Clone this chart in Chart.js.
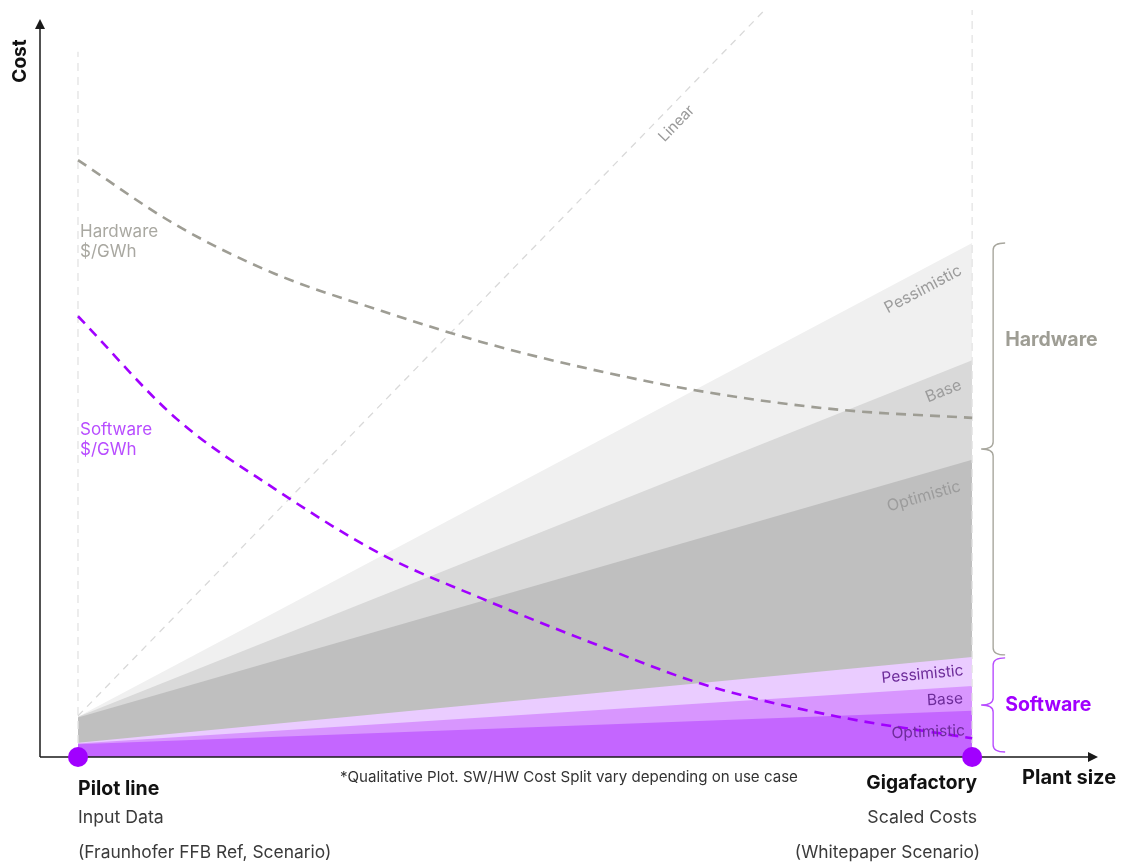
<!DOCTYPE html>
<html>
<head>
<meta charset="utf-8">
<title>Cost vs plant size</title>
<script src="https://cdn.jsdelivr.net/npm/chart.js@4.4.1/dist/chart.umd.min.js"></script>
<style>
  html, body { margin: 0; padding: 0; background: #fff; }
  #wrap { width: 1127px; height: 868px; }
</style>
</head>
<body>
<div id="wrap"><canvas id="chart" width="1127" height="868"></canvas></div>
<script>
// plant size axis: pilot line = 0, gigafactory = 100 (cost in arbitrary units 0..100)
const bandX = [0, 100]
const hwPessimistic = [5.4, 68.8]
const hwBase = [5.4, 53.1]
const hwOptimistic = [5.3, 39.8]
const swPessimistic = [1.9, 13.4]
const swBase = [1.8, 9.5]
const swOptimistic = [1.7, 6.2]

const curveX = [0, 11, 22, 34, 45, 57, 70, 85, 100]
const hwCostPerGWh = [79.9, 71.2, 64.7, 59.7, 55.6, 52.0, 48.9, 46.5, 45.4]
const swCostPerGWh = [59.0, 45.3, 35.9, 27.1, 21.3, 15.5, 9.7, 5.4, 2.5]

const linearX = [0, 76.8]
const linearY = [5.5, 100]

const milestoneX = [0, 100]
const milestoneY = [0, 0]
const guideTop = [94.4, 100]

const FONT = 'Inter, "Noto Sans", sans-serif'
const PURPLE = '#a100ff'
const HW_GREY = '#9e9d94'

const pts = (xs, ys) => xs.map((x, i) => ({ x, y: ys[i] }))

const band = (data, color) => ({
  data: pts(bandX, data),
  backgroundColor: color,
  borderWidth: 0,
  pointRadius: 0,
  fill: 'origin',
})

const dashed = (data, color, width, dash) => ({
  data,
  borderColor: color,
  borderWidth: width,
  borderDash: dash,
  pointRadius: 0,
  fill: false,
})

// first dataset ends up on top
const datasets = [
  {
    data: pts(milestoneX, milestoneY),
    showLine: false,
    pointRadius: 10,
    pointBackgroundColor: PURPLE,
    pointBorderWidth: 0,
    clip: false,
  },
  { ...dashed(pts(curveX, swCostPerGWh), PURPLE, 2.6, [10, 7]), cubicInterpolationMode: 'monotone' },
  { ...dashed(pts(curveX, hwCostPerGWh), HW_GREY, 2.6, [10, 7]), cubicInterpolationMode: 'monotone' },
  dashed(pts(linearX, linearY), '#d9d9d9', 1.3, [7, 6]),
  dashed([{ x: milestoneX[0], y: 0 }, { x: milestoneX[0], y: guideTop[0] }], '#e3e3e3', 1.3, [8, 6]),
  dashed([{ x: milestoneX[1], y: 0 }, { x: milestoneX[1], y: guideTop[1] }], '#e3e3e3', 1.3, [8, 6]),
  band(swOptimistic, '#c466ff'),
  band(swBase, '#d896fe'),
  band(swPessimistic, '#eaccff'),
  band(hwOptimistic, '#bfbfbf'),
  band(hwBase, '#d9d9d9'),
  band(hwPessimistic, '#f0f0f0'),
]

const bandLabels = [
  { xs: bandX, ys: hwPessimistic, text: 'Pessimistic', color: '#9c9c9c', inset: 20, offset: 10 },
  { xs: bandX, ys: hwBase, text: 'Base', color: '#9c9c9c', inset: 18, offset: 10 },
  { xs: bandX, ys: hwOptimistic, text: 'Optimistic', color: '#9c9c9c', inset: 18, offset: 14 },
  { xs: bandX, ys: swPessimistic, text: 'Pessimistic', color: '#6d2c9a', inset: 10, offset: 5 },
  { xs: bandX, ys: swBase, text: 'Base', color: '#6d2c9a', inset: 10, offset: 4 },
  { xs: bandX, ys: swOptimistic, text: 'Optimistic', color: '#6d2c9a', inset: 8, offset: 12 },
]

const drawBrace = (ctx, x, top, bottom, color) => {
  const mid = (top + bottom) / 2
  ctx.save()
  ctx.strokeStyle = color
  ctx.lineWidth = 1.4
  ctx.beginPath()
  ctx.moveTo(x + 12, top)
  ctx.quadraticCurveTo(x, top, x, top + 7)
  ctx.lineTo(x, mid - 7)
  ctx.quadraticCurveTo(x, mid, x - 12, mid)
  ctx.quadraticCurveTo(x, mid, x, mid + 7)
  ctx.lineTo(x, bottom - 7)
  ctx.quadraticCurveTo(x, bottom, x + 12, bottom)
  ctx.stroke()
  ctx.restore()
}

const text = (ctx, str, x, y, font, color, align = 'left') => {
  ctx.font = font
  ctx.fillStyle = color
  ctx.textAlign = align
  ctx.textBaseline = 'middle'
  ctx.fillText(str, x, y)
}

const axesPlugin = {
  id: 'axesArrows',
  beforeDatasetDraw(chart, args) {
    if (args.index !== 0) return
    const { ctx, chartArea: a } = chart
    ctx.save()
    ctx.strokeStyle = '#1a1a1a'
    ctx.fillStyle = '#1a1a1a'
    ctx.lineWidth = 1.5
    ctx.beginPath()
    ctx.moveTo(a.left, a.bottom)
    ctx.lineTo(a.right - 8, a.bottom)
    ctx.moveTo(a.left, a.bottom)
    ctx.lineTo(a.left, a.top + 16)
    ctx.stroke()
    // arrow heads
    ctx.beginPath()
    ctx.moveTo(a.right - 2, a.bottom)
    ctx.lineTo(a.right - 12, a.bottom - 5)
    ctx.lineTo(a.right - 12, a.bottom + 5)
    ctx.closePath()
    ctx.fill()
    ctx.beginPath()
    ctx.moveTo(a.left, a.top + 9)
    ctx.lineTo(a.left - 5, a.top + 19)
    ctx.lineTo(a.left + 5, a.top + 19)
    ctx.closePath()
    ctx.fill()
    ctx.restore()
  },
}

const annotationPlugin = {
  id: 'annotations',
  afterDraw(chart) {
    const { ctx, scales: { x, y } } = chart
    ctx.save()

    // scenario labels along the band edges
    bandLabels.forEach((l, i) => {
      const x0 = x.getPixelForValue(l.xs[0]), y0 = y.getPixelForValue(l.ys[0])
      const x1 = x.getPixelForValue(l.xs[1]), y1 = y.getPixelForValue(l.ys[1])
      const angle = Math.atan2(y1 - y0, x1 - x0)
      const ax = x1 - l.inset
      const ay = y1 + (y0 - y1) * l.inset / (x1 - x0)
      ctx.save()
      ctx.translate(ax, ay)
      ctx.rotate(angle)
      ctx.font = `${i < 3 ? 16 : 15.5}px ${FONT}`
      ctx.fillStyle = l.color
      ctx.textAlign = 'right'
      ctx.textBaseline = 'top'
      ctx.fillText(l.text, 0, l.offset)
      ctx.restore()
    })

    // "Linear" along the dashed reference line
    {
      const x0 = x.getPixelForValue(linearX[0]), y0 = y.getPixelForValue(linearY[0])
      const x1 = x.getPixelForValue(linearX[1]), y1 = y.getPixelForValue(linearY[1])
      const t = 0.855
      ctx.save()
      ctx.translate(x0 + (x1 - x0) * t, y0 + (y1 - y0) * t)
      ctx.rotate(Math.atan2(y1 - y0, x1 - x0))
      text(ctx, 'Linear', 0, 16, `15px ${FONT}`, '#9a9a9a', 'center')
      ctx.restore()
    }

    // curve captions
    const px0 = x.getPixelForValue(0) + 2
    text(ctx, 'Hardware', px0, 232, `17px ${FONT}`, '#a9a8a1')
    text(ctx, '$/GWh', px0, 252, `17px ${FONT}`, '#a9a8a1')
    text(ctx, 'Software', px0, 430, `17px ${FONT}`, '#b84dff')
    text(ctx, '$/GWh', px0, 450, `17px ${FONT}`, '#b84dff')

    // braces grouping hardware and software bands
    const braceX = x.getPixelForValue(100) + 21
    const swTop = y.getPixelForValue(swPessimistic[1])
    drawBrace(ctx, braceX, y.getPixelForValue(hwPessimistic[1]), swTop - 2, '#a8a79e')
    drawBrace(ctx, braceX, swTop + 1, y.getPixelForValue(0) - 5, '#b84dff')
    text(ctx, 'Hardware', braceX + 12, 340, `bold 19.5px ${FONT}`, HW_GREY)
    text(ctx, 'Software', braceX + 12, 705, `bold 19.5px ${FONT}`, PURPLE)

    // axis titles
    ctx.save()
    ctx.translate(20, 61)
    ctx.rotate(-Math.PI / 2)
    text(ctx, 'Cost', 0, 0, `bold 19px ${FONT}`, '#111', 'center')
    ctx.restore()
    text(ctx, 'Plant size', 1022, 778, `bold 20px ${FONT}`, '#111')

    // milestone captions
    const pl = x.getPixelForValue(0)
    const gf = x.getPixelForValue(100) + 5
    text(ctx, 'Pilot line', pl, 789, `bold 19.5px ${FONT}`, '#111')
    text(ctx, 'Input Data', pl, 818, `17.7px ${FONT}`, '#3a3a3a')
    text(ctx, '(Fraunhofer FFB Ref, Scenario)', pl, 853, `17.4px ${FONT}`, '#3a3a3a')
    text(ctx, 'Gigafactory', gf, 783, `bold 19.2px ${FONT}`, '#111', 'right')
    text(ctx, 'Scaled Costs', gf, 818, `17.7px ${FONT}`, '#3a3a3a', 'right')
    text(ctx, '(Whitepaper Scenario)', gf + 3, 853, `17.4px ${FONT}`, '#3a3a3a', 'right')

    text(ctx, '*Qualitative Plot. SW/HW Cost Split vary depending on use case', 569, 777, `15.1px ${FONT}`, '#333', 'center')

    ctx.restore()
  },
}

new Chart(document.getElementById('chart'), {
  type: 'line',
  data: { datasets },
  options: {
    responsive: false,
    animation: false,
    devicePixelRatio: 1,
    layout: { padding: { left: 40, right: 27, top: 10, bottom: 111 } },
    scales: {
      x: { type: 'linear', min: -4.25, max: 114.3, display: false },
      y: { type: 'linear', min: 0, max: 100, display: false },
    },
    plugins: {
      legend: { display: false },
      tooltip: { enabled: false },
    },
    events: [],
  },
  plugins: [axesPlugin, annotationPlugin],
})
</script>
</body>
</html>
